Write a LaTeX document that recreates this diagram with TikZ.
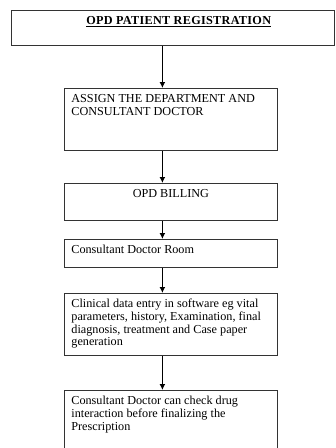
\documentclass[tikz,border=0pt]{standalone}
\usepackage{fontspec}
\setmainfont{Liberation Serif}
\usetikzlibrary{arrows.meta}

\newcommand{\boxtext}[3][199pt]{\parbox[t][#2][t]{#1}{\raggedright #3}}

\tikzset{
  stepbox/.style = {draw = black!80, line width = 0.8pt, anchor = north west,
                    inner xsep = 7pt, inner ysep = 6pt,
                    font = \fontsize{12.2}{12.6}\selectfont},
  flow/.style = {line width = 1.4pt, -{Latex[length = 6pt, width = 6pt]}}
}

\begin{document}
\begin{tikzpicture}[x = 1pt, y = -1pt]
  \useasboundingbox (0,0) rectangle (336,448);
  \node[stepbox] (reg) at (11,10)
    {\boxtext[309pt]{23pt}{\centering\hspace*{12pt}\underline{\addfontfeature{LetterSpace=2.5}\textbf{OPD PATIENT REGISTRATION}}}};
  \node[stepbox] (assign) at (64,88)
    {\boxtext{50pt}{ASSIGN THE DEPARTMENT AND\\ CONSULTANT DOCTOR}};
  \node[stepbox] (billing) at (64,183)
    {\boxtext{25pt}{\centering OPD BILLING}};
  \node[stepbox] (room) at (64,239)
    {\boxtext{16pt}{Consultant Doctor Room}};
  \node[stepbox] (clinical) at (64,293)
    {\boxtext{50pt}{Clinical data entry in software eg vital\\ parameters, history,
      Examination, final\\ diagnosis, treatment and Case paper\\ generation}};
  \node[stepbox] (check) at (64,390)
    {\boxtext{58pt}{Consultant Doctor can check drug\\ interaction before finalizing
      the\\ Prescription}};
  % arrows down the flow
  \coordinate (axis) at ([xshift = -8.5pt]assign.north);
  \draw[flow] (reg.south -| axis) -- (axis);
  \foreach \a/\b in {assign/billing, billing/room, room/clinical, clinical/check}
  {
    \draw[flow] ([xshift = -8.5pt]\a.south) -- ([xshift = -8.5pt]\b.north);
  }
\end{tikzpicture}
\end{document}
